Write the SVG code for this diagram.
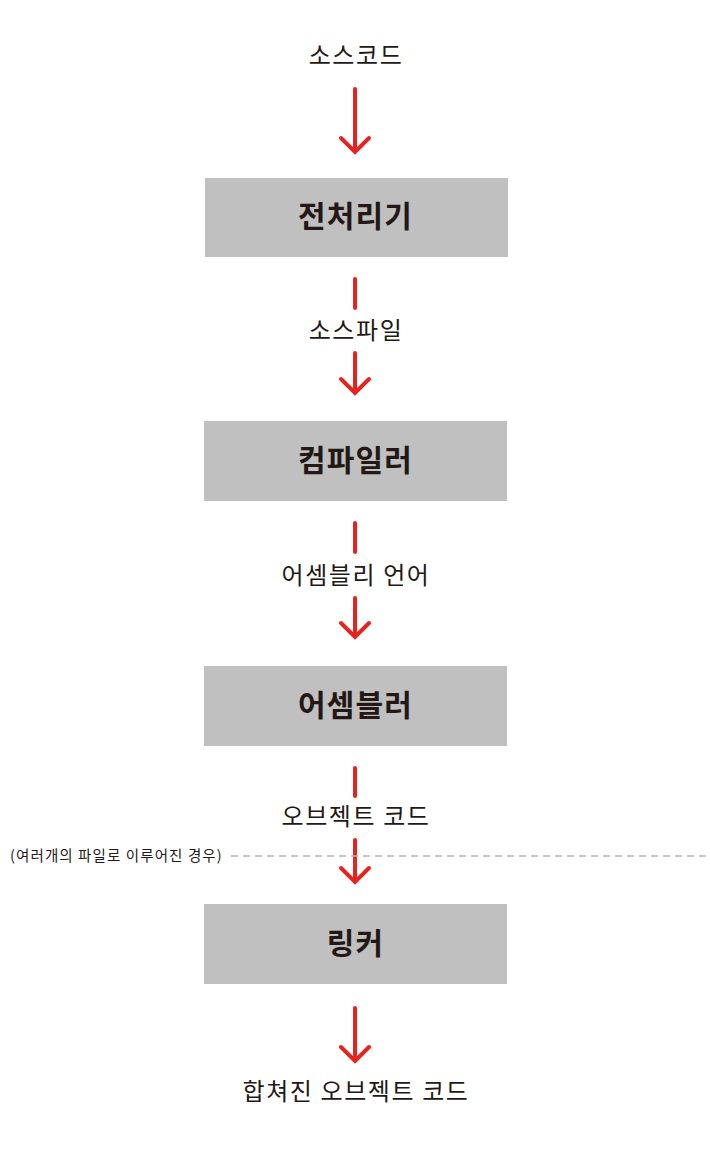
<svg xmlns="http://www.w3.org/2000/svg" width="710" height="1152" viewBox="0 0 710 1152">
<style>
.box{fill:#bfc0bf;}
.t{font-family:"Noto Sans CJK KR","Noto Sans",sans-serif;fill:#231815;text-anchor:middle;}
.lbl{font-size:24px;letter-spacing:1.6px;}
.bt{font-size:30px;font-weight:bold;letter-spacing:1.2px;}
.ar{stroke:#e5231f;stroke-width:4;fill:none;stroke-linecap:round;stroke-linejoin:miter;}
.dash{stroke:#b5b5b5;stroke-width:1.5;stroke-dasharray:7,5;fill:none;}
</style>
<rect width="710" height="1152" fill="#fff"/>
<g id="connectors">
<path class="ar" d="M355,89V152M341,138L355,152L369,138"/>
<path class="ar" d="M355,279V308M355,353V393M341,379L355,393L369,379"/>
<path class="ar" d="M355,523V552M355,598V637M341,623L355,637L369,623"/>
<path class="ar" d="M355,768V796M355,840V882M341,868L355,882L369,868"/>
<path class="ar" d="M355,1008V1061M341,1047L355,1061L369,1047"/>
</g>
<g id="src"><text class="t lbl" x="356" y="64">소스코드</text></g>
<g id="preproc"><rect class="box" x="205" y="178" width="303" height="79"/><text class="t bt" x="355.5" y="227">전처리기</text></g>
<g id="srcfile"><text class="t lbl" x="356" y="339">소스파일</text></g>
<g id="compiler"><rect class="box" x="204" y="421" width="303" height="80"/><text class="t bt" x="355.5" y="471">컴파일러</text></g>
<g id="asm"><text class="t lbl" x="356" y="584">어셈블리 언어</text></g>
<g id="assembler"><rect class="box" x="204" y="666" width="303" height="80"/><text class="t bt" x="355.5" y="716">어셈블러</text></g>
<g id="obj"><text class="t lbl" x="356" y="825">오브젝트 코드</text></g>
<g id="note"><line class="dash" x1="231" y1="856" x2="710" y2="856"/><text class="t" x="10" y="861" style="font-size:14.5px;letter-spacing:1.1px;text-anchor:start">(여러개의 파일로 이루어진 경우)</text></g>
<g id="linker"><rect class="box" x="204" y="904" width="303" height="80"/><text class="t bt" x="355.5" y="954">링커</text></g>
<g id="merged"><text class="t lbl" x="356" y="1100">합쳐진 오브젝트 코드</text></g>
</svg>
